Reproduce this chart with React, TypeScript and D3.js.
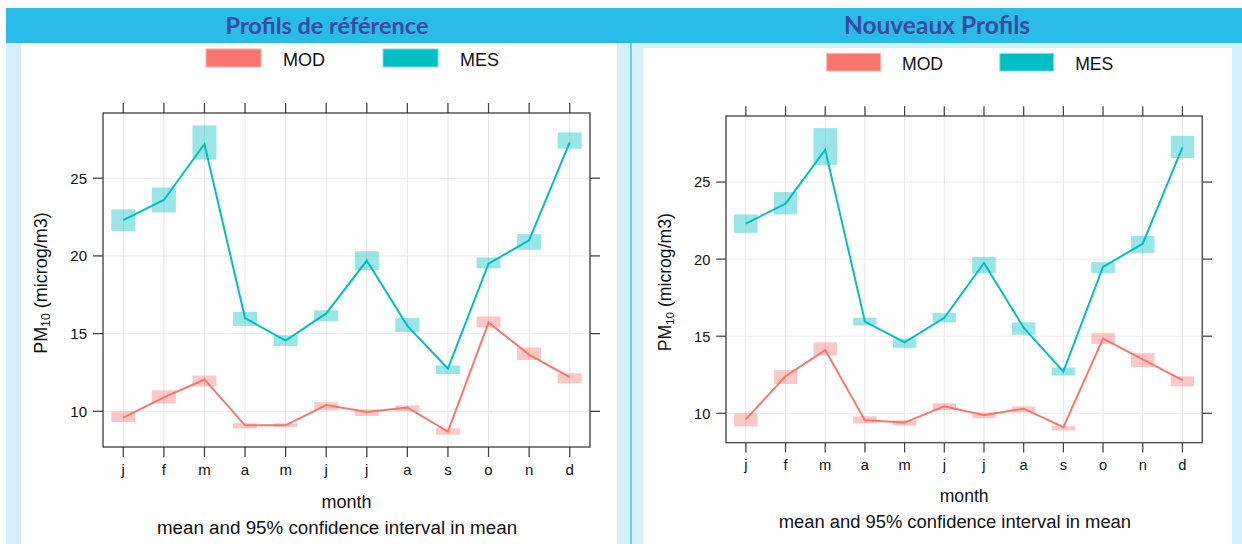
import React from "react";
import * as d3 from "d3";

// ---- data ----
const months = ["j", "f", "m", "a", "m", "j", "j", "a", "s", "o", "n", "d"];
const yTicks = [10, 15, 20, 25];

// Profils de référence
const refMod = [9.6, 10.9, 12.05, 9.1, 9.1, 10.4, 9.95, 10.25, 8.7, 15.7, 13.65, 12.2];
const refModLo = [9.3, 10.5, 11.6, 8.9, 9.0, 10.06, 9.7, 10.0, 8.5, 15.4, 13.3, 11.8];
const refModHi = [10.0, 11.35, 12.3, 9.23, 9.23, 10.58, 10.13, 10.38, 8.9, 16.1, 14.1, 12.45];
const refMes = [22.3, 23.6, 27.2, 16.0, 14.55, 16.3, 19.7, 15.5, 12.75, 19.5, 21.0, 27.3];
const refMesLo = [21.6, 22.8, 26.2, 15.5, 14.2, 15.8, 19.1, 15.1, 12.4, 19.2, 20.4, 26.9];
const refMesHi = [23.0, 24.4, 28.4, 16.4, 14.9, 16.5, 20.3, 16.0, 12.95, 19.9, 21.4, 27.95];

// Nouveaux Profils
const newMod = [9.6, 12.4, 14.1, 9.55, 9.4, 10.45, 9.87, 10.3, 9.1, 14.85, 13.5, 12.15];
const newModLo = [9.15, 11.9, 13.75, 9.35, 9.2, 10.2, 9.68, 10.06, 8.88, 14.5, 13.0, 11.75];
const newModHi = [10.0, 12.8, 14.6, 9.8, 9.55, 10.65, 10.06, 10.45, 9.16, 15.2, 13.9, 12.4];
const newMes = [22.3, 23.6, 27.1, 15.95, 14.6, 16.2, 19.75, 15.55, 12.7, 19.5, 21.0, 27.25];
const newMesLo = [21.7, 22.9, 26.1, 15.7, 14.25, 15.9, 19.1, 15.1, 12.45, 19.1, 20.4, 26.55];
const newMesHi = [22.9, 24.35, 28.5, 16.2, 14.85, 16.5, 20.15, 15.9, 12.97, 19.8, 21.5, 28.0];

const panelTitles = ["Profils de référence", "Nouveaux Profils"];
const seriesNames = ["MOD", "MES"];
const seriesColors = ["#F8766D", "#00BFC4"];

// ---- layout ----
const BOX = { x0: 103, x1: 590, y0: 113, y1: 447 };
const FONT = "'Liberation Sans', Arial, Helvetica, sans-serif";

type PanelProps = {
  mod: number[]; modLo: number[]; modHi: number[];
  mes: number[]; mesLo: number[]; mesHi: number[];
};

function Panel({ mod, modLo, modHi, mes, mesLo, mesHi }: PanelProps) {
  const all = [...modLo, ...modHi, ...mesLo, ...mesHi];
  const mn = d3.min(all)!;
  const mx = d3.max(all)!;
  const pad = (mx - mn) * 0.04;
  const x = d3.scalePoint<number>().domain(d3.range(months.length)).range([BOX.x0, BOX.x1]).padding(0.5);
  const y = d3.scaleLinear().domain([mn - pad, mx + pad]).range([BOX.y1, BOX.y0]);
  const line = d3.line<number>().x((_, i) => x(i)!).y((v) => y(v));
  const bw = 24;
  const series = [
    { v: mod, lo: modLo, hi: modHi, c: seriesColors[0] },
    { v: mes, lo: mesLo, hi: mesHi, c: seriesColors[1] },
  ];
  const tick = 10;
  const axisColor = "#444";
  return (
    <g>
      {/* legend */}
      {seriesNames.map((n, i) => {
        const rx = i === 0 ? 206 : 383;
        return (
          <g key={n}>
            <rect x={rx} y={49} width={55} height={18} fill={seriesColors[i]} stroke={i === 0 ? "#fbb0aa" : "#7fdfe1"} strokeWidth={1} />
            <text x={rx + 77} y={65.5} fontFamily={FONT} fontSize={18} fill="#111">{n}</text>
          </g>
        );
      })}
      {/* grid */}
      {months.map((_, i) => (
        <line key={"gx" + i} x1={x(i)} x2={x(i)} y1={BOX.y0} y2={BOX.y1} stroke="#e6e6e6" strokeWidth={1} />
      ))}
      {yTicks.map((t) => (
        <line key={"gy" + t} x1={BOX.x0} x2={BOX.x1} y1={y(t)} y2={y(t)} stroke="#ececec" strokeWidth={1} />
      ))}
      {/* CI boxes */}
      {series.map((s, si) => (
        <g key={"ci" + si}>
          {s.v.map((_, i) => (
            <rect key={i} x={x(i)! - bw / 2} width={bw} y={y(s.hi[i])} height={y(s.lo[i]) - y(s.hi[i])} fill={s.c} fillOpacity={0.4} />
          ))}
        </g>
      ))}
      {/* lines */}
      {series.map((s, si) => (
        <path key={"l" + si} d={line(s.v)!} fill="none" stroke={s.c} strokeWidth={2} />
      ))}
      {/* frame */}
      <rect x={BOX.x0} y={BOX.y0} width={BOX.x1 - BOX.x0} height={BOX.y1 - BOX.y0} fill="none" stroke="#555" strokeWidth={1.5} />
      {/* x ticks */}
      {months.map((m, i) => (
        <g key={"xt" + i}>
          <line x1={x(i)} x2={x(i)} y1={BOX.y1} y2={BOX.y1 + tick} stroke={axisColor} strokeWidth={1.3} />
          <line x1={x(i)} x2={x(i)} y1={BOX.y0} y2={BOX.y0 - tick} stroke={axisColor} strokeWidth={1.3} />
          <text x={x(i)} y={475} textAnchor="middle" fontFamily={FONT} fontSize={15} fill="#111">{m}</text>
        </g>
      ))}
      {/* y ticks */}
      {yTicks.map((t) => (
        <g key={"yt" + t}>
          <line x1={BOX.x0 - tick} x2={BOX.x0} y1={y(t)} y2={y(t)} stroke={axisColor} strokeWidth={1.3} />
          <line x1={BOX.x1} x2={BOX.x1 + tick} y1={y(t)} y2={y(t)} stroke={axisColor} strokeWidth={1.3} />
          <text x={BOX.x0 - 16} y={y(t) + 5.5} textAnchor="end" fontFamily={FONT} fontSize={15} fill="#111">{t}</text>
        </g>
      ))}
      {/* axis labels */}
      <text transform={`translate(47,283) rotate(-90)`} textAnchor="middle" fontFamily={FONT} fontSize={18} fill="#111">
        PM<tspan fontSize={12} dy={3}>10</tspan><tspan dy={-3}> (microg/m3)</tspan>
      </text>
      <text x={(BOX.x0 + BOX.x1) / 2} y={508} textAnchor="middle" fontFamily={FONT} fontSize={18} fill="#111">month</text>
      <text x={337} y={534} textAnchor="middle" fontFamily={FONT} fontSize={18.8} fill="#111">mean and 95% confidence interval in mean</text>
    </g>
  );
}

export default function App() {
  const s = 0.978;
  return (
    <svg width={1242} height={544} style={{ position: "absolute", left: 0, top: 0, display: "block" }}>
      <rect x={0} y={0} width={1242} height={544} fill="#ffffff" />
      {/* light blue background */}
      <rect x={6} y={43} width={1236} height={501} fill="#d4f0fb" />
      {/* header bar */}
      <rect x={6} y={8} width={1236} height={35} fill="#29bce9" />
      {/* white panels */}
      <rect x={21} y={43} width={596} height={501} fill="#ffffff" />
      <rect x={643} y={48} width={589} height={496} fill="#ffffff" />
      <line x1={631} x2={631} y1={43} y2={544} stroke="#45c5ee" strokeWidth={1.5} />
      {/* titles */}
      <text x={327} y={34} textAnchor="middle" fontFamily="Lato, 'Open Sans', sans-serif" fontWeight={700} fontSize={23.5} fill="#3a4b9f">{panelTitles[0]}</text>
      <text x={937} y={34} textAnchor="middle" fontFamily="Lato, 'Open Sans', sans-serif" fontWeight={700} fontSize={24.5} fill="#3a4b9f">{panelTitles[1]}</text>
      <Panel mod={refMod} modLo={refModLo} modHi={refModHi} mes={refMes} mesLo={refMesLo} mesHi={refMesHi} />
      <g transform={`translate(${726 - 103 * s},${116 - 113 * s}) scale(${s})`}>
        <Panel mod={newMod} modLo={newModLo} modHi={newModHi} mes={newMes} mesLo={newMesLo} mesHi={newMesHi} />
      </g>
    </svg>
  );
}
